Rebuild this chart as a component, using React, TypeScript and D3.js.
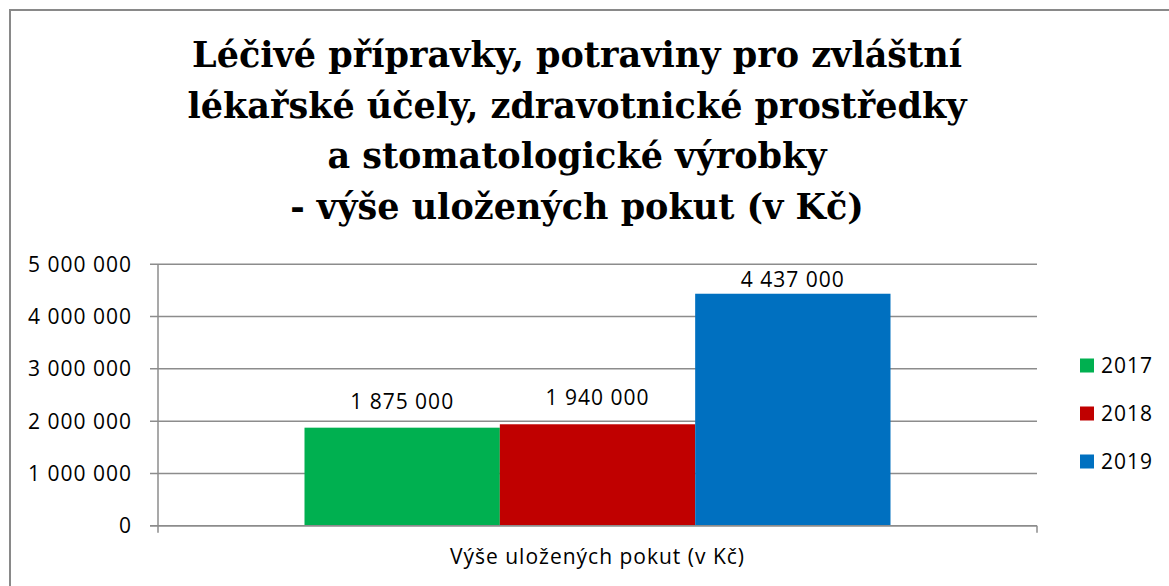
import * as d3 from "d3"

const titleLines = [
  "Léčivé přípravky, potraviny pro zvláštní",
  "lékařské účely, zdravotnické prostředky",
  "a stomatologické výrobky",
  "- výše uložených pokut  (v Kč)",
]
const category = "Výše uložených pokut (v Kč)"
const years = ["2017", "2018", "2019"]
const fines = [1875000, 1940000, 4437000]
const colors = ["#00B050", "#C00000", "#0070C0"]
const yTicks = [0, 1000000, 2000000, 3000000, 4000000, 5000000]

const fmt = (v: number) => d3.format(",")(v).replace(/,/g, " ")

export default function App() {
  const width = 1169
  const height = 586
  const plot = { left: 158, right: 1037, top: 264.3, bottom: 525.7 }
  const font = "'Open Sans', 'Noto Sans', sans-serif"
  const grid = "#8c8c8c"

  const y = d3.scaleLinear().domain([0, 5000000]).range([plot.bottom, plot.top])
  const x0 = d3.scaleBand().domain([category]).range([plot.left, plot.right]).paddingInner(0).paddingOuter(0.25)
  const x1 = d3.scaleBand().domain(years).range([x0(category)!, x0(category)! + x0.bandwidth()])

  const textProps = { fontFamily: font, fontSize: 21, letterSpacing: 1, fill: "#000" }

  return (
    <svg
      width={width}
      height={height}
      style={{ position: "absolute", left: 0, top: 0, display: "block", background: "#fff" }}
    >
      <rect x={10} y={10} width={1300} height={700} fill="#fff" stroke="#898989" strokeWidth={2} />

      {titleLines.map((t, i) => (
        <text
          key={i}
          x={577}
          y={67 + i * 50.5}
          textAnchor="middle"
          fontFamily="'DejaVu Serif', 'Liberation Serif', serif"
          fontWeight="bold"
          fontSize={35}
          fill="#000"
        >
          {t}
        </text>
      ))}

      {yTicks.map((t) => (
        <g key={t}>
          <line x1={plot.left - 8} x2={plot.right} y1={y(t)} y2={y(t)} stroke={grid} strokeWidth={1.5} />
          <text x={132} y={y(t)} dy="0.36em" textAnchor="end" {...textProps}>
            {fmt(t)}
          </text>
        </g>
      ))}
      <line x1={plot.left} x2={plot.left} y1={plot.top} y2={plot.bottom + 7} stroke={grid} strokeWidth={1.5} />
      <line x1={plot.right} x2={plot.right} y1={plot.bottom} y2={plot.bottom + 7} stroke={grid} strokeWidth={1.5} />

      {years.map((yr, i) => {
        const bx = x1(yr)!
        const top = y(fines[i])
        const labelY = Math.max(top - 19, plot.top + 23)
        return (
          <g key={yr}>
            <rect x={bx} y={top} width={x1.bandwidth()} height={plot.bottom - top} fill={colors[i]} />
            <text x={bx + x1.bandwidth() / 2} y={labelY} textAnchor="middle" {...textProps}>
              {fmt(fines[i])}
            </text>
          </g>
        )
      })}
      <line x1={plot.left - 8} x2={plot.right} y1={plot.bottom} y2={plot.bottom} stroke={grid} strokeWidth={1.5} />

      <text x={x0(category)! + x0.bandwidth() / 2} y={564} textAnchor="middle" {...textProps}>
        {category}
      </text>

      {years.map((yr, i) => (
        <g key={yr} transform={`translate(1080, ${365.5 + i * 48})`}>
          <rect x={0} y={-7} width={14} height={14} fill={colors[i]} />
          <text x={21} y={0} dy="0.36em" {...textProps}>
            {yr}
          </text>
        </g>
      ))}
    </svg>
  )
}
